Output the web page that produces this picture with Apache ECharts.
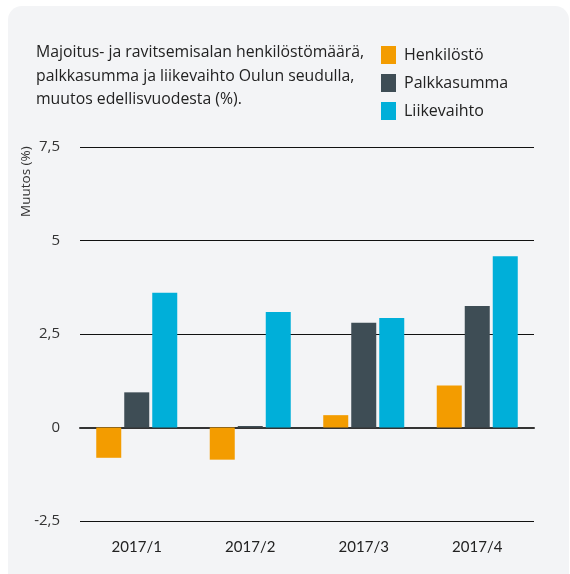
<!DOCTYPE html>
<html>
<head>
<meta charset="utf-8">
<script src="https://cdn.jsdelivr.net/npm/echarts@6/dist/echarts.min.js"></script>
<style>
html, body { margin: 0; padding: 0; background: #fff; }
#chart { width: 570px; height: 574px; }
</style>
</head>
<body>
<div id="chart"></div>
<script>
var quarters = ['2017/1', '2017/2', '2017/3', '2017/4'];
var henkilosto = [-0.81, -0.86, 0.33, 1.12];
var palkkasumma = [0.94, 0.04, 2.80, 3.25];
var liikevaihto = [3.60, 3.09, 2.93, 4.58];

var chart = echarts.init(document.getElementById('chart'));
var fontFam = '"Open Sans", Lato, sans-serif';

function fmt(v) {
	return String(v).replace('.', ',');
}

var option = {
	animation : false,
	textStyle : { fontFamily : fontFam },
	color : [ '#f39c00', '#3e4d55', '#00afd9' ],
	graphic : [ {
		type : 'rect',
		z : -10,
		shape : { x : 8, y : 6, width : 561, height : 620, r : 14 },
		style : { fill : '#f3f4f6' }
	}, {
		type : 'text',
		left : 36,
		top : 41,
		style : {
			text : 'Majoitus- ja ravitsemisalan henkilöstömäärä,\npalkkasumma ja liikevaihto Oulun seudulla,\nmuutos edellisvuodesta (%).',
			font : '15.8px ' + fontFam,
			fill : '#222',
			lineHeight : 23.5
		}
	}, {
		type : 'text',
		x : 19,
		y : 217,
		rotation : Math.PI / 2,
		style : {
			text : 'Muutos (%)',
			font : '13.5px ' + fontFam,
			fill : '#333'
		}
	} ],
	legend : {
		orient : 'vertical',
		left : 376,
		top : 41,
		itemWidth : 15,
		itemHeight : 18,
		itemGap : 10,
		icon : 'rect',
		textStyle : { fontSize : 16, color : '#222', padding : [ 0, 0, 0, 3 ] },
		data : [ 'Henkilöstö', 'Palkkasumma', 'Liikevaihto' ]
	},
	grid : { left : 80, right : 36, top : 147, bottom : 53 },
	xAxis : {
		type : 'category',
		data : quarters,
		axisLine : { onZero : true, lineStyle : { color : '#333', width : 2 } },
		axisTick : { show : false },
		axisLabel : {
			color : '#222',
			fontSize : 15,
			fontFamily : 'Lato, sans-serif',
			margin : 19
		},
		position : 'bottom'
	},
	yAxis : {
		type : 'value',
		min : -2.5,
		max : 7.5,
		interval : 2.5,
		axisLine : { show : false },
		axisTick : { show : false },
		splitLine : { lineStyle : { color : '#111', width : 1 } },
		axisLabel : {
			color : '#333',
			fontSize : 15,
			margin : 20,
			formatter : function(v) { return fmt(v); }
		}
	},
	series : [ {
		name : 'Henkilöstö',
		type : 'bar',
		barWidth : 25,
		barGap : '12%',
		data : henkilosto
	}, {
		name : 'Palkkasumma',
		type : 'bar',
		barWidth : 25,
		barGap : '12%',
		data : palkkasumma
	}, {
		name : 'Liikevaihto',
		type : 'bar',
		barWidth : 25,
		barGap : '12%',
		data : liikevaihto
	} ]
};
chart.setOption(option);
</script>
</body>
</html>
